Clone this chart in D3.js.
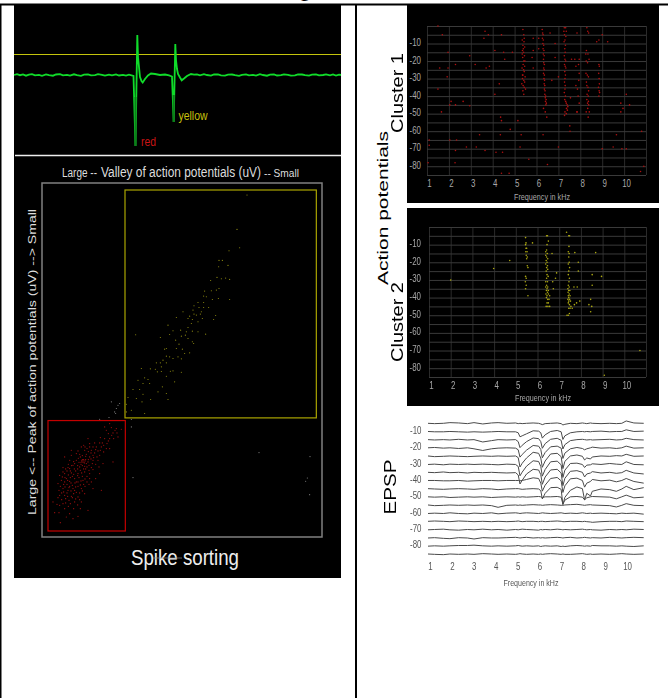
<!DOCTYPE html>
<html>
<head>
<meta charset="utf-8">
<script src="https://cdn.jsdelivr.net/npm/d3@7"></script>
<style>
  body { margin: 0; background: #fff; }
  svg { display: block; }
  text { font-family: "Liberation Sans", Arial, sans-serif; }
  .soft { filter: blur(0.35px); }
</style>
</head>
<body>
<div id="wrapper"></div>
<script>
// 1. Data

// raw voltage trace: [time, voltage]
const traceBase = [[0,0],[3,0.8],[6,-0.2],[9,0.6],[12,-0.7],[15,0.3],[18,0.9],[21,-0.4],[25,0.2],[28,-0.8],[32,0.6],[35,-0.1],[39,-0.7],[42,0.5],[46,0.9],[49,-0.3],[53,0.1],[56,-0.6],[60,0.7],[63,-0.2],[67,-0.8],[70,0.3],[74,0.7],[77,-0.4],[81,-0.1],[84,0.8],[88,0.2],[91,-0.6],[95,0.4],[98,-0.3],[102,0.6],[105,-0.5],[109,0.2],[112,-0.6],[115,0.4],[119.5,-1],[121.5,-71],[123.3,40],[124,18],[125,8],[126,-2],[127.5,-6],[128.7,-7.5],[131,-4],[134,-0.5],[137,1.5],[141,1],[146,0],[151,0.5],[155,-0.3],[158,-1.5],[159.7,-47],[161.3,31],[162,15],[163,6],[164,1],[166,-2.5],[167.7,-5.3],[170,-3.5],[173,-1],[177,1],[180,0.3],[183,0.7],[186,-0.4],[190,0.8],[193,0],[197,-0.6],[200,0.5],[204,0.7],[207,-0.3],[211,-0.7],[214,0.4],[218,0.5],[221,-0.2],[225,-0.8],[228,0.2],[232,0.7],[235,-0.4],[239,0.1],[242,-0.6],[246,0.8],[249,0],[253,-0.7],[256,0.4],[260,0.5],[263,-0.5],[267,-0.2],[270,0.6],[274,0.2],[277,-0.6],[281,-0.4],[284,0.6],[288,0.5],[291,-0.2],[295,-0.7],[298,0.3],[302,0.7],[305,-0.4],[309,0],[312,0.6],[316,-0.3],[319,0.5],[322,-0.6],[325,0.3],[327,0]];
const spikeDownRed = [[121.5,-22],[121.5,-71]];
const spikeDownYellow = [[159.7,-20],[159.7,-47]];
const spikeThreshold = 20.5;

// sorted spikes: [valley, peak]
const redSpikes = [[320,745],[335,747],[300,730],[290,750],[310,758],[285,775],[300,775],[325,770],[270,788],[255,788],[240,800],[260,800],[275,800],[290,805],[215,800],[225,810],[245,810],[265,812],[300,805],[210,822],[230,822],[250,825],[270,825],[235,775],[185,810],[165,830],[180,840],[200,840],[220,842],[235,845],[250,840],[265,840],[310,845],[160,862],[175,862],[190,855],[210,860],[225,858],[245,862],[165,880],[185,878],[205,880],[225,875],[240,880],[270,880],[145,910],[165,905],[180,903],[200,905],[220,900],[240,895],[160,925],[175,930],[195,930],[215,925],[250,925],[275,930],[150,945],[165,945],[185,948],[205,950],[130,965],[160,970],[195,965],[215,965],[165,985],[235,990],[135,997],[148,997],[205,1008],[190,1015],[152,1027],[218,838],[224,848],[214,852],[228,838],[240,830],[255,818],[232,805],[205,812],[212,830],[195,850],[180,865],[172,872],[188,888],[198,872],[212,870],[222,866],[232,860],[195,895],[208,892],[218,888],[232,888],[170,895],[182,892],[155,900],[172,912],[188,915],[205,918],[222,912],[232,905],[162,935],[180,918],[192,940],[210,938],[148,930],[168,955],[178,960],[190,925],[205,905],[248,850],[238,855],[258,852],[262,830],[282,815],[278,788],[292,790],[312,775],[322,758],[305,742],[285,740],[240,790],[222,795],[150,975],[176,978],[192,985],[225,940],[245,905],[258,895],[145,952],[212,985],[180,1000],[170,1010],[160,875],[150,885],[185,825],[200,820],[268,860],[280,850],
[216,842],[220,846],[226,842],[222,838],[214,846],[230,850],[208,846],[204,856],[218,856],[236,838],[244,836],[252,832],[228,828],[218,826],[206,834],[192,844],[186,856],[176,852],[168,866],[182,872],[194,866],[204,866],[216,878],[228,866],[238,870],[250,868],[176,884],[166,892],[158,890],[192,882],[204,886],[226,896],[214,902],[196,908],[184,908],[174,900],[162,912],[152,918],[166,920],[178,922],[198,920],[212,914],[226,918],[238,912],[184,932],[172,938],[156,938],[200,936],[218,932],[188,952],[174,948],[156,958],[198,956],[210,958],[168,968],[182,970],[142,972],[204,974],[244,818],[236,814],[258,808],[272,810],[250,800],[226,800],[282,795],[296,782],[272,772],[306,765],[316,750],[296,760]];
const yellowSpikes = [[712,45],[682,148],[690,203],[658,212],[628,241],[638,241],[627,260],[655,256],[603,301],[622,292],[635,296],[648,294],[660,298],[628,325],[620,330],[605,332],[585,333],[582,348],[590,350],[626,355],[660,358],[608,358],[582,367],[565,367],[553,377],[550,390],[568,382],[582,382],[597,382],[520,395],[540,408],[553,402],[572,402],[578,415],[618,406],[612,418],[500,412],[535,415],[548,418],[565,425],[475,435],[490,452],[535,442],[513,450],[530,455],[548,453],[565,455],[588,462],[480,463],[378,464],[452,472],[515,468],[535,475],[548,485],[552,490],[508,492],[470,505],[465,507],[500,505],[518,507],[540,518],[525,520],[470,528],[480,530],[505,530],[490,535],[515,536],[460,540],[452,548],[440,548],[470,548],[455,560],[395,565],[422,566],[437,567],[455,574],[482,573],[490,572],[515,576],[405,593],[415,598],[470,588],[385,600],[400,610],[420,610],[458,620],[495,605],[370,628],[390,628],[400,642],[445,635],[470,640],[355,652],[380,655],[397,665],[423,658],[475,658],[350,672],[365,690],[405,700],[350,695],[560,405],[575,395],[545,430],[527,465],[498,480],[443,575]];
const graySpikes = [[305,665],[320,685],[318,700],[298,712],[325,675],[315,695],[330,670],[270,717],[365,718],[365,740],[370,892],[748,817],[901,829],[893,893],[888,903],[900,943]];

const valleyDomain = [97, 937];
const peakDomain = [9, 1070];
const yellowGate = { valley: [346, 920], peak: [30, 713] };
const redGate = { valley: [115, 347], peak: [721, 1052] };

// raster plots: [frequency kHz, threshold]
const cluster1 = [[5.38,-2],[5.42,-5],[5.35,-8],[5.43,-9],[5.38,-11],[5.46,-12],[5.36,-14],[5.41,-15],[5.45,-17],[5.37,-18],[5.42,-20],[5.39,-22],[5.46,-23],[5.34,-24],[5.41,-25],[5.44,-26],[5.38,-28],[5.48,-29],[5.36,-30],[5.42,-31],[5.46,-32],[5.33,-33],[5.39,-34],[5.44,-35],[5.38,-37],[5.5,-36],[5.42,-39],[5.36,-28],[5.47,-20],[5.35,-16],[5.44,-7],[5.4,-13],
[6.26,-2],[6.28,-4],[6.3,-5],[6.27,-7],[6.31,-8],[6.29,-10],[6.33,-11],[6.3,-13],[6.34,-14],[6.31,-16],[6.35,-17],[6.32,-19],[6.33,-21],[6.36,-22],[6.33,-24],[6.35,-25],[6.32,-27],[6.36,-28],[6.34,-30],[6.37,-31],[6.35,-33],[6.38,-34],[6.36,-36],[6.39,-37],[6.38,-39],[6.42,-40],[6.4,-41],[6.44,-42],[6.41,-43],[6.45,-44],[6.43,-45],[6.32,-47],[6.4,-49],[6.47,-52],[6.3,-62],
[7.27,-1],[7.33,-1],[7.25,-3],[7.36,-3],[7.28,-5],[7.34,-6],[7.3,-8],[7.26,-9],[7.32,-11],[7.29,-13],[7.31,-15],[7.27,-17],[7.3,-19],[7.33,-20],[7.28,-22],[7.31,-23],[7.34,-24],[7.29,-26],[7.32,-28],[7.3,-30],[7.28,-32],[7.31,-34],[7.3,-36],[7.27,-38],[7.32,-40],[7.29,-42],[7.33,-43],[7.36,-44],[7.4,-45],[7.43,-46],[7.37,-47],[7.41,-48],[7.3,-49],[7.36,-50],[7.28,-51],[7.52,-57],[7.53,-60],
[8.3,-1],[8.34,-3],[8.38,-4],[8.28,-14],[8.35,-16],[8.25,-16],[8.4,-19],[8.27,-20],[8.33,-21],[8.26,-27],[8.32,-28],[8.37,-29],[8.28,-32],[8.3,-34],[8.35,-35],[8.38,-37],[8.31,-39],[8.36,-40],[8.3,-42],[8.37,-43],[8.33,-44],[8.38,-45],[8.34,-47],[8.27,-49],[8.41,-49],[8.36,-52],
[8.85,-22],[8.87,-23],[8.84,-27],[8.86,-30],[8.87,-33],[8.83,-35],[8.86,-37],[8.88,-38],[8.85,-40],
[7.95,-19],[7.92,-22],[7.95,-27],[7.93,-31],[7.8,-34],[7.87,-36],[7.9,-40],[7.95,-44],[7.8,-23],[7.85,-49],[7.6,-19],
[1.5,0],[1.7,-5],[1.96,-15],[1.58,-24],[1.96,-24],[1.5,-36],[1.92,-29],[1.66,-49],[2.04,-45],[2.3,-45],[2.65,-43],[2.1,-43],[2.95,-45.5],[2.95,-17],[3.2,-22],[2.3,-22],[3.65,-3],[3.6,-7],[3.8,-5],[4.4,-5],[4.1,-14],[4.5,-15],[4.55,-19],[4.9,-15],[3.7,-24],[3.85,-23],[4.3,-33],[4.1,-39],[4.36,-52],[4.4,-54],[4.8,-59],[5.15,-54],[4.35,-62],[3.4,-62],[5.3,-62],[1.1,-65],[1.1,-68],[2.35,-65],[2.04,-65],[2.3,-71],[2.8,-69],[3.25,-69],[3.65,-71],[4.15,-72],[4.45,-72],[5.25,-69],[5.65,-76],[1.05,-78],[2.28,-78],[4.4,-84],[4.75,-84],[6.5,-79],[7,-69],[9,-70],[9.5,-69],[9.9,-70],[10.1,-70],[9.65,-62],[10.8,-60],[10.9,-80],[10.75,-83],[9.85,-49],[9.95,-47],[10.25,-45],[10.1,-39],[9.85,-44],[9,-5],[9.25,-9],[8.75,-9],[8.85,-8],[7.85,-4],[6.62,-4],[5.85,-7],[6.1,-7],[5.85,-14],[6.1,-13],[5.8,-18],[5.85,-24],[6.85,-10],[6.85,-18],[6.7,-31],[7,-29],[7.75,-19],[7.55,-41],[7.85,-49]];
const cluster2 = [[5.45,-6],[5.47,-9],[5.45,-10],[5.47,-12],[5.5,-12],[5.46,-14],[5.52,-14],[5.48,-16],[5.53,-17],[5.5,-18],[5.53,-22],[5.56,-23],[5.45,-28],[5.48,-29],[5.44,-31],[5.48,-33],[5.45,-35],[5.56,-39],[5.77,-9],
[6.42,-5],[6.46,-5],[6.5,-8],[6.44,-10],[6.42,-13],[6.38,-14],[6.45,-15],[6.38,-16],[6.42,-17],[6.47,-18],[6.4,-19],[6.44,-20],[6.38,-21],[6.46,-22],[6.42,-23],[6.47,-24],[6.4,-25],[6.44,-27],[6.49,-28],[6.42,-29],[6.38,-31],[6.46,-31],[6.42,-33],[6.47,-34],[6.38,-34],[6.44,-35],[6.5,-36],[6.41,-36],[6.46,-37],[6.39,-38],[6.5,-38],[6.44,-39],[6.56,-39],[6.41,-40],[6.47,-41],[6.53,-41],[6.44,-43],[6.5,-43],[6.4,-45],[6.48,-45],[6.56,-45],[6.7,-31],[6.67,-15],[6.73,-35],
[7.44,-5],[7.48,-5],[7.45,-11],[7.42,-14],[7.46,-15],[7.44,-17],[7.46,-20],[7.42,-21],[7.48,-23],[7.44,-25],[7.42,-27],[7.47,-29],[7.45,-31],[7.42,-33],[7.46,-34],[7.4,-35],[7.44,-36],[7.49,-36],[7.41,-37],[7.46,-38],[7.42,-39],[7.5,-39],[7.44,-40],[7.4,-41],[7.48,-41],[7.44,-42],[7.52,-42],[7.42,-43],[7.47,-44],[7.54,-45],[7.44,-46],[7.5,-46],[7.6,-46],[7.36,-50],[7.42,-50],[7.47,-49],[7.7,-44],
[2,-30],[3.98,-23.5],[4.72,-19],[8.68,-14.5],[7.72,-14.5],[7.88,-20],[7.88,-25],[6.88,-26],[6.83,-29],[8.95,-28],[8.52,-27],[8.52,-33],[10.72,-70],[9.08,-84],[7.34,-3],[8.45,-41],[8.37,-44],[8.5,-45],[8.45,-48],[7.95,-42],[7.8,-43],[7.68,-34],[7.83,-34]];

// averaged EPSP traces: one row of downward deflections per threshold
const epspFreq = [1,1.3,1.7,2,2.4,2.8,3.1,3.5,3.9,4.2,4.6,5,5.12,5.2,5.3,5.5,5.8,6.05,6.15,6.22,6.35,6.6,6.9,7.08,7.16,7.25,7.5,7.8,8.05,8.15,8.25,8.42,8.5,8.9,9.3,9.6,9.85,10.05,10.4,10.85];
const epspLevels = [-5,-10,-15,-20,-25,-30,-35,-40,-45,-50,-55,-60,-65,-70,-75,-80,-85];
const epspRows = [
  [0,1,0,-2,-1,1,-2,2,-1,-2,0,-1,1,0,1,0,-1,0,2,4,1,0,-1,1,5,3,0,1,-1,0,1,-1,0,1,0,1,0,-7,-1,0],
  [0,1,1,0,1,2,1,2,1,0,1,1,4,16,13,7,-2,-1,4,20,10,0,-3,1,24,13,4,1,0,1,0,1,0,-1,1,0,0,-5,0,-1],
  [0,1,0,1,-1,1,0,7,3,0,1,0,6,24,17,6,-5,-3,6,26,12,-1,-4,2,28,15,3,0,-1,0,1,0,1,0,-1,1,0,-4,0,1],
  [0,-1,1,0,2,0,3,8,3,1,0,1,6,28,20,7,-7,-5,5,30,14,-3,-5,1,32,16,3,-1,2,6,3,0,-2,1,0,2,0,-5,1,0],
  [0,2,1,0,1,2,1,0,1,0,1,0,5,33,22,6,-11,-8,6,34,15,-6,-8,2,38,16,0,-3,1,12,6,9,3,0,1,-1,0,-5,1,0],
  [1,0,2,0,1,0,1,0,1,2,0,1,7,35,24,6,-10,-8,7,36,16,-7,-9,2,40,18,-2,-3,1,10,3,2,-1,1,-2,0,1,-7,1,2],
  [0,1,-1,1,0,2,0,1,0,1,2,1,8,35,24,5,-9,-7,7,36,14,-7,-9,2,40,18,-3,-5,0,14,5,2,-2,2,0,3,1,-6,2,5],
  [0,0,1,1,0,2,1,0,0,1,0,0,0,1,0,-3,-8,-6,8,32,14,-6,-9,1,36,16,-5,-7,0,20,8,3,-3,1,-1,4,0,-6,3,8],
  [0,1,2,1,0,1,2,0,1,3,1,0,0,1,2,1,0,1,6,31,14,-3,-4,2,48,26,5,-5,0,34,14,22,8,1,3,8,1,-7,3,-3],
  [0,1,0,2,1,0,1,0,2,1,0,1,0,1,0,1,0,-1,0,2,0,0,-1,1,22,10,0,-1,1,9,3,0,-1,0,1,6,0,-5,3,1],
  [0,2,1,0,1,0,1,0,2,7,1,0,1,0,1,0,-1,0,0,1,0,-1,0,1,1,0,-1,-2,0,1,0,-1,0,1,2,6,1,-4,1,2],
  [1,0,1,-1,1,2,0,1,-1,2,0,-1,0,1,0,-1,0,1,0,-1,0,1,0,-1,0,1,0,1,-1,0,1,0,1,0,1,2,0,1,0,3],
  [0,-1,0,1,-1,0,1,0,1,0,1,0,-1,0,1,0,0,1,0,0,1,0,-1,0,1,1,0,0,1,0,1,2,3,1,0,0,1,-1,0,1],
  [1,0,-1,1,2,0,1,-1,1,0,2,0,1,0,-1,0,1,2,0,1,0,1,-1,0,1,0,1,0,-1,0,1,0,1,2,0,1,0,1,-1,0],
  [1,0,2,3,0,1,4,0,1,1,0,-1,0,1,0,-1,1,0,1,0,1,0,-1,0,1,0,-1,1,0,-1,0,1,0,1,-1,0,1,0,-1,0],
  [1,0,1,0,-1,-1,-2,0,1,0,1,0,-1,0,1,0,1,0,2,1,0,1,0,2,1,2,0,-1,0,1,0,1,-1,0,0,1,0,1,2,0],
  [0,1,2,0,1,0,1,-1,0,1,0,1,0,-1,0,1,0,1,0,1,0,-1,0,1,0,1,1,0,-1,0,1,0,1,0,1,0,-1,0,1,0],
];
const deflectionUnit = 0.204;

const freqTicks = [1,2,3,4,5,6,7,8,9,10];
const freqGrid = [1,2,3,4,5,6,7,8,9,10,11];
const levelTicks = [-10,-20,-30,-40,-50,-60,-70,-80];
const levelGrid = [0,-5,-10,-15,-20,-25,-30,-35,-40,-45,-50,-55,-60,-65,-70,-75,-80,-85];

// 2. Chart dimensions

const dimensions = {
  width: 668,
  height: 698,
  leftPanel: { x: 14, y: 5, width: 327, height: 573 },
  sort: { x: 42, y: 183, width: 280, height: 354 },
  cluster1: { panelY: 5, panelH: 198, left: 427, right: 646, top: 26, bottom: 175 },
  cluster2: { panelY: 208, panelH: 198, left: 429, right: 646, top: 227, bottom: 377 },
  epsp: { left: 428, right: 647, top: 423.3, bottom: 554 },
};

// 3. Draw canvas

const svg = d3
  .select("#wrapper")
  .append("svg")
  .attr("width", dimensions.width)
  .attr("height", dimensions.height);

const addText = (parent, str, x, y, size, fill, opts = {}) => {
  const t = parent
    .append("text")
    .attr("transform", `translate(${x},${y}) rotate(${opts.rotate || 0})`)
    .attr("text-anchor", opts.anchor || "middle")
    .attr("font-size", size)
    .attr("fill", fill)
    .text(str);
  if (opts.length) {
    t.attr("textLength", opts.length).attr("lengthAdjust", "spacingAndGlyphs");
  }
  return t;
};

// table rules around the figure
svg.append("g")
  .attr("stroke", "#000")
  .selectAll("line")
  .data([
    { x1: 0, y1: 4.5, x2: 668, y2: 4.5, w: 2 },
    { x1: 0.5, y1: 4, x2: 0.5, y2: 698, w: 2 },
    { x1: 356, y1: 4, x2: 356, y2: 698, w: 2 },
  ])
  .join("line")
  .attr("x1", (d) => d.x1)
  .attr("y1", (d) => d.y1)
  .attr("x2", (d) => d.x2)
  .attr("y2", (d) => d.y2)
  .attr("stroke-width", (d) => d.w);

addText(svg, "g", 305, -4, 24, "#000");

// 4. Left panel: trace and spike sorting

svg.append("rect")
  .attr("x", dimensions.leftPanel.x)
  .attr("y", dimensions.leftPanel.y)
  .attr("width", dimensions.leftPanel.width)
  .attr("height", dimensions.leftPanel.height)
  .attr("fill", "#000");

const timeScale = d3.scaleLinear().domain([0, 327]).range([14, 341]);
const voltScale = d3.scaleLinear().domain([70, -80]).range([5, 155]);
const waveLine = d3.line().x((d) => timeScale(d[0])).y((d) => voltScale(d[1]));

svg.append("line")
  .attr("x1", timeScale(0))
  .attr("x2", timeScale(327))
  .attr("y1", voltScale(spikeThreshold))
  .attr("y2", voltScale(spikeThreshold))
  .attr("stroke", "#c4c40c")
  .attr("stroke-width", 1);

svg.append("path")
  .attr("class", "soft")
  .attr("d", waveLine(traceBase))
  .attr("fill", "none")
  .attr("stroke", "#10dc2a")
  .attr("stroke-width", 1.8);

[spikeDownRed, spikeDownYellow].forEach((seg) => {
  svg.append("path")
    .attr("d", waveLine(seg))
    .attr("fill", "none")
    .attr("stroke", "#0c7f1a")
    .attr("stroke-width", 2);
});

svg.append("line")
  .attr("x1", 15)
  .attr("x2", 341)
  .attr("y1", 155.5)
  .attr("y2", 155.5)
  .attr("stroke", "#eee")
  .attr("stroke-width", 1.5);

addText(svg, "red", 141, 146, 12, "#c81414", { anchor: "start", length: 15 });
addText(svg, "yellow", 178.5, 120, 12, "#c8c00c", { anchor: "start", length: 29 });

const valleyScale = d3.scaleLinear().domain(valleyDomain).range([dimensions.sort.x, dimensions.sort.x + dimensions.sort.width]);
const peakScale = d3.scaleLinear().domain(peakDomain).range([dimensions.sort.y, dimensions.sort.y + dimensions.sort.height]);

svg.append("rect")
  .attr("x", valleyScale(valleyDomain[0]))
  .attr("y", peakScale(peakDomain[0]))
  .attr("width", dimensions.sort.width)
  .attr("height", dimensions.sort.height)
  .attr("fill", "none")
  .attr("stroke", "#808080")
  .attr("stroke-width", 1.5);

const drawGate = (gate, color) => {
  svg.append("rect")
    .attr("x", valleyScale(gate.valley[0]))
    .attr("y", peakScale(gate.peak[0]))
    .attr("width", valleyScale(gate.valley[1]) - valleyScale(gate.valley[0]))
    .attr("height", peakScale(gate.peak[1]) - peakScale(gate.peak[0]))
    .attr("fill", "none")
    .attr("stroke", color)
    .attr("stroke-width", 1.2);
};
drawGate(yellowGate, "#aaa400");
drawGate(redGate, "#c40000");

const drawSpikes = (spikes, color, r) => {
  svg.append("g")
    .attr("class", "soft")
    .attr("fill", color)
    .selectAll("circle")
    .data(spikes)
    .join("circle")
    .attr("cx", (d) => valleyScale(d[0]))
    .attr("cy", (d) => peakScale(d[1]))
    .attr("r", r);
};
drawSpikes(redSpikes, "#a81010", 0.6);
drawSpikes(yellowSpikes, "#9a9612", 0.55);
drawSpikes(graySpikes, "#8a8a8a", 0.55);

addText(svg, "Large --", 62, 177, 12, "#ddd", { anchor: "start", length: 35 });
addText(svg, "Valley of action potentials (uV)", 101, 177, 14, "#ddd", { anchor: "start", length: 160 });
addText(svg, "-- Small", 264, 177, 11.5, "#ddd", { anchor: "start", length: 35 });

addText(svg, "Large <-- Peak of action potentials (uV) --> Small", 35.5, 362, 11, "#ddd", { rotate: -90, length: 306 });
addText(svg, "Spike sorting", 185, 565, 22, "#eee", { length: 108 });
svg.append("line")
  .attr("x1", 153).attr("x2", 182).attr("y1", 558).attr("y2", 558)
  .attr("stroke", "#888").attr("stroke-width", 0.7);

// 5. Right column: raster panels and EPSP traces

const soft = svg.append("g").attr("class", "soft");

const drawAxes = (box, gridColor) => {
  const x = d3.scaleLinear().domain([1, 11]).range([box.left, box.right]);
  const y = d3.scaleLinear().domain([0, -85]).range([box.top, box.bottom]);

  soft.append("g")
    .attr("transform", `translate(0,${box.bottom})`)
    .call(d3.axisBottom(x).tickValues(freqGrid).tickSize(box.top - box.bottom).tickFormat(""))
    .call((g) => g.select(".domain").remove())
    .call((g) => g.selectAll("line").attr("stroke", gridColor[0]));

  soft.append("g")
    .attr("transform", `translate(${box.left},0)`)
    .call(d3.axisLeft(y).tickValues(levelGrid).tickSize(box.left - box.right).tickFormat(""))
    .call((g) => g.select(".domain").remove())
    .call((g) => g.selectAll("line").attr("stroke", gridColor[1]));

  return { x, y };
};

// squeeze the tick text, the original labels are tall and narrow
const squeeze = (sel) => {
  sel.each(function () {
    d3.select(this)
      .attr("textLength", this.getComputedTextLength() * 0.72)
      .attr("lengthAdjust", "spacingAndGlyphs");
  });
};

const drawTickLabels = (x, y, xLabelY, yLabelX, color) => {
  const xAxis = soft.append("g")
    .attr("transform", `translate(2,${xLabelY})`)
    .call(d3.axisBottom(x).tickValues(freqTicks).tickSize(0).tickPadding(0));
  xAxis.select(".domain").remove();
  xAxis.selectAll("text").attr("fill", color).attr("font-size", 11).call(squeeze);

  const yAxis = soft.append("g")
    .attr("transform", `translate(${yLabelX},-1.5)`)
    .call(d3.axisLeft(y).tickValues(levelTicks).tickSize(0).tickPadding(0).tickFormat((d) => String(d)));
  yAxis.select(".domain").remove();
  yAxis.selectAll("text").attr("fill", color).attr("font-size", 11).call(squeeze);
};

const drawRaster = (box, data, color, xLabelY, titleY, titleX) => {
  soft.append("rect")
    .attr("x", 407).attr("y", box.panelY)
    .attr("width", 252).attr("height", box.panelH)
    .attr("fill", "#000");
  const { x, y } = drawAxes(box, ["#2a2a2a", "#3a3a3a"]);
  soft.append("g")
    .attr("fill", color)
    .selectAll("circle")
    .data(data)
    .join("circle")
    .attr("cx", (d) => x(d[0]))
    .attr("cy", (d) => y(d[1]))
    .attr("r", 0.8);
  drawTickLabels(x, y, xLabelY, 421, "#a8a8a8");
  addText(soft, "Frequency in kHz", titleX, titleY, 9.5, "#a8a8a8", { length: 56 });
};

drawRaster(dimensions.cluster1, cluster1, "#b01010", 179, 200, 542);
drawRaster(dimensions.cluster2, cluster2, "#aca812", 381, 401, 543);

const epspX = d3.scaleLinear().domain([1, 11]).range([dimensions.epsp.left, dimensions.epsp.right]);
const epspY = d3.scaleLinear().domain([-5, -85]).range([dimensions.epsp.top, dimensions.epsp.bottom]);
const epspLine = d3
  .line()
  .x((d) => epspX(d[0]))
  .y((d) => epspY(d[1]));

epspRows.forEach((row, i) => {
  const points = row.map((v, j) => [epspFreq[j], epspLevels[i] - v * deflectionUnit]);
  soft.append("path")
    .attr("d", epspLine(points))
    .attr("fill", "none")
    .attr("stroke", "#4a4a4a")
    .attr("stroke-width", 1);
});
drawTickLabels(epspX, epspY, 562, 421.5, "#555");
addText(soft, "Frequency in kHz", 531, 586, 9.5, "#555", { length: 55 });

// 6. Side titles

addText(svg, "Action potentials", 388, 208, 15.5, "#000", { rotate: -90, length: 154 });
addText(svg, "Cluster 1", 403, 93, 16, "#000", { rotate: -90, length: 80 });
addText(svg, "Cluster 2", 403, 322, 16, "#000", { rotate: -90, length: 80 });
addText(svg, "EPSP", 396, 487, 16, "#000", { rotate: -90, length: 55 });
</script>
</body>
</html>
